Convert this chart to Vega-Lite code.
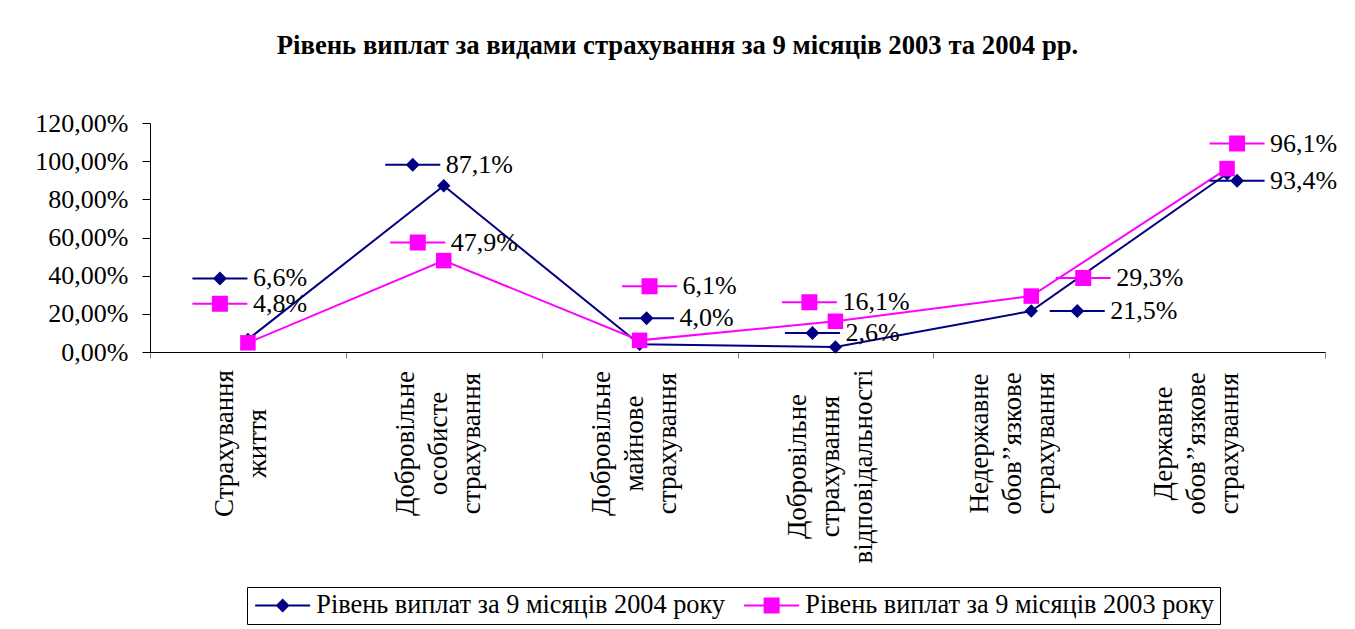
{
  "$schema": "https://vega.github.io/schema/vega-lite/v6.json",
  "width": 1175,
  "height": 229,
  "autosize": {"type": "none"},
  "padding": {"left": 150, "top": 123, "right": 30, "bottom": 277},
  "background": "white",
  "title": {
    "text": "Рівень виплат за видами страхування за 9 місяців 2003 та 2004 рр.",
    "font": "Liberation Serif",
    "fontSize": 26.7,
    "fontWeight": "bold",
    "color": "black",
    "anchor": "middle",
    "dx": -60,
    "offset": 50
  },
  "data": {
    "values": [
      {"cat": "Страхування життя", "series": "Рівень виплат за 9 місяців 2004 року", "value": 0.066},
      {"cat": "Добровільне особисте страхування", "series": "Рівень виплат за 9 місяців 2004 року", "value": 0.871},
      {"cat": "Добровільне майнове страхування", "series": "Рівень виплат за 9 місяців 2004 року", "value": 0.04},
      {"cat": "Добровільне страхування відповідальності", "series": "Рівень виплат за 9 місяців 2004 року", "value": 0.026},
      {"cat": "Недержавне обов’’язкове страхування", "series": "Рівень виплат за 9 місяців 2004 року", "value": 0.215},
      {"cat": "Державне обов’’язкове страхування", "series": "Рівень виплат за 9 місяців 2004 року", "value": 0.934},
      {"cat": "Страхування життя", "series": "Рівень виплат за 9 місяців 2003 року", "value": 0.048},
      {"cat": "Добровільне особисте страхування", "series": "Рівень виплат за 9 місяців 2003 року", "value": 0.479},
      {"cat": "Добровільне майнове страхування", "series": "Рівень виплат за 9 місяців 2003 року", "value": 0.061},
      {"cat": "Добровільне страхування відповідальності", "series": "Рівень виплат за 9 місяців 2003 року", "value": 0.161},
      {"cat": "Недержавне обов’’язкове страхування", "series": "Рівень виплат за 9 місяців 2003 року", "value": 0.293},
      {"cat": "Державне обов’’язкове страхування", "series": "Рівень виплат за 9 місяців 2003 року", "value": 0.961}
    ]
  },
  "encoding": {
    "x": {
      "field": "cat", "type": "nominal", "sort": null,
      "scale": {"type": "band", "paddingInner": 0, "paddingOuter": 0},
      "axis": {
        "title": null,
        "labelAngle": -90,
        "labelAlign": "center",
        "labelBaseline": "middle",
        "labelExpr": "split(datum.label, ' ')",
        "labelFont": "Liberation Serif",
        "labelFontSize": 27,
        "labelLineHeight": 33,
        "labelColor": "black",
        "labelLimit": 0,
        "labelOverlap": false,
        "labelPadding": {"condition": {"test": "datum.value === 'Добровільне страхування відповідальності'", "value": 108}, "value": 85},
        "labelOffset": {"condition": [
          {"test": "datum.value === 'Страхування життя'", "value": -23},
          {"test": "datum.value === 'Недержавне обов’’язкове страхування'", "value": -52},
          {"test": "datum.value === 'Державне обов’’язкове страхування'", "value": -64}
        ], "value": -38},
        "tickBand": "extent",
        "tickSize": 6,
        "tickColor": "#808080",
        "domainColor": "black",
        "domainWidth": 1
      }
    },
    "y": {
      "field": "value", "type": "quantitative",
      "scale": {"domain": [0, 1.2], "nice": false, "zero": true},
      "axis": {
        "title": null,
        "values": [0, 0.2, 0.4, 0.6, 0.8, 1, 1.2],
        "format": ".2%",
        "grid": false,
        "labelFont": "Liberation Serif",
        "labelFontSize": 26,
        "labelColor": "black",
        "tickSize": 8,
        "labelPadding": 14,
        "tickColor": "black",
        "domainColor": "black"
      }
    }
  },
  "layer": [
    {
      "mark": {"type": "line", "strokeWidth": 2},
      "encoding": {
        "color": {
          "field": "series", "type": "nominal",
          "scale": {"domain": ["Рівень виплат за 9 місяців 2004 року", "Рівень виплат за 9 місяців 2003 року"], "range": ["#000080", "#FF00FF"]},
          "legend": {
            "title": null, "orient": "none", "legendX": 97, "legendY": 464, "direction": "horizontal",
            "labelFont": "Liberation Serif", "labelFontSize": 26.3, "labelColor": "black", "labelLimit": 0,
            "symbolSize": 400, "symbolStrokeWidth": 0, "symbolOpacity": 1, "labelOffset": 38, "columnPadding": 15,
            "padding": 5, "strokeColor": "black", "fillColor": "white"
          }
        }
      }
    },
    {
      "transform": [{"filter": {"field": "series", "equal": "Рівень виплат за 9 місяців 2004 року"}}],
      "mark": {"type": "point", "shape": "diamond", "filled": true, "size": 180, "opacity": 1, "strokeWidth": 0},
      "encoding": {"color": {"field": "series", "type": "nominal"}}
    },
    {
      "transform": [{"filter": {"field": "series", "equal": "Рівень виплат за 9 місяців 2003 року"}}],
      "mark": {"type": "point", "shape": "square", "filled": true, "size": 240, "opacity": 1, "strokeWidth": 0},
      "encoding": {"color": {"field": "series", "type": "nominal"}}
    },
    {
      "transform": [{"filter": {"field": "value", "equal": 0.066}}],
      "layer": [
        {"mark": {"type": "point", "filled": true, "size": 400, "opacity": 1, "strokeWidth": 0, "xOffset": -45.5, "yOffset": -61},
         "encoding": {"color": {"field": "series", "type": "nominal"},
           "shape": {"field": "series", "type": "nominal",
             "scale": {"domain": ["Рівень виплат за 9 місяців 2004 року", "Рівень виплат за 9 місяців 2003 року"],
               "range": ["M-1,-0.1H4.5V0.1H-1Z M1.75,-0.7L2.45,0L1.75,0.7L1.05,0Z", "M-1,-0.1H4.5V0.1H-1Z M0.95,-0.8H2.55V0.8H0.95Z"]},
             "legend": {
               "title": null, "orient": "none", "legendX": 97, "legendY": 464, "direction": "horizontal",
               "labelFont": "Liberation Serif", "labelFontSize": 26.3, "labelColor": "black", "labelLimit": 0,
               "symbolSize": 400, "symbolStrokeWidth": 0, "symbolOpacity": 1, "labelOffset": 38, "columnPadding": 15,
               "padding": 5, "strokeColor": "black", "fillColor": "white"
             }}}},
        {"mark": {"type": "text", "align": "left", "baseline": "middle", "font": "Liberation Serif", "fontSize": 26, "color": "black", "xOffset": 5, "yOffset": -61},
         "encoding": {"text": {"field": "value", "type": "quantitative", "format": ".1%"}}}
      ]
    },
    {
      "transform": [{"filter": {"field": "value", "equal": 0.871}}],
      "layer": [
        {"mark": {"type": "point", "filled": true, "size": 400, "opacity": 1, "strokeWidth": 0, "xOffset": -48.5, "yOffset": -21},
         "encoding": {"color": {"field": "series", "type": "nominal"}, "shape": {"field": "series", "type": "nominal"}}},
        {"mark": {"type": "text", "align": "left", "baseline": "middle", "font": "Liberation Serif", "fontSize": 26, "color": "black", "xOffset": 2, "yOffset": -21},
         "encoding": {"text": {"field": "value", "type": "quantitative", "format": ".1%"}}}
      ]
    },
    {
      "transform": [{"filter": {"field": "value", "equal": 0.04}}],
      "layer": [
        {"mark": {"type": "point", "filled": true, "size": 400, "opacity": 1, "strokeWidth": 0, "xOffset": -10.5, "yOffset": -26},
         "encoding": {"color": {"field": "series", "type": "nominal"}, "shape": {"field": "series", "type": "nominal"}}},
        {"mark": {"type": "text", "align": "left", "baseline": "middle", "font": "Liberation Serif", "fontSize": 26, "color": "black", "xOffset": 40, "yOffset": -26},
         "encoding": {"text": {"field": "value", "type": "quantitative", "format": ".1%"}}}
      ]
    },
    {
      "transform": [{"filter": {"field": "value", "equal": 0.026}}],
      "layer": [
        {"mark": {"type": "point", "filled": true, "size": 400, "opacity": 1, "strokeWidth": 0, "xOffset": -40.5, "yOffset": -14},
         "encoding": {"color": {"field": "series", "type": "nominal"}, "shape": {"field": "series", "type": "nominal"}}},
        {"mark": {"type": "text", "align": "left", "baseline": "middle", "font": "Liberation Serif", "fontSize": 26, "color": "black", "xOffset": 10, "yOffset": -14},
         "encoding": {"text": {"field": "value", "type": "quantitative", "format": ".1%"}}}
      ]
    },
    {
      "transform": [{"filter": {"field": "value", "equal": 0.215}}],
      "layer": [
        {"mark": {"type": "point", "filled": true, "size": 400, "opacity": 1, "strokeWidth": 0, "xOffset": 28.5, "yOffset": 0},
         "encoding": {"color": {"field": "series", "type": "nominal"}, "shape": {"field": "series", "type": "nominal"}}},
        {"mark": {"type": "text", "align": "left", "baseline": "middle", "font": "Liberation Serif", "fontSize": 26, "color": "black", "xOffset": 79, "yOffset": 0},
         "encoding": {"text": {"field": "value", "type": "quantitative", "format": ".1%"}}}
      ]
    },
    {
      "transform": [{"filter": {"field": "value", "equal": 0.934}}],
      "layer": [
        {"mark": {"type": "point", "filled": true, "size": 400, "opacity": 1, "strokeWidth": 0, "xOffset": -7.5, "yOffset": 7},
         "encoding": {"color": {"field": "series", "type": "nominal"}, "shape": {"field": "series", "type": "nominal"}}},
        {"mark": {"type": "text", "align": "left", "baseline": "middle", "font": "Liberation Serif", "fontSize": 26, "color": "black", "xOffset": 43, "yOffset": 7},
         "encoding": {"text": {"field": "value", "type": "quantitative", "format": ".1%"}}}
      ]
    },
    {
      "transform": [{"filter": {"field": "value", "equal": 0.048}}],
      "layer": [
        {"mark": {"type": "point", "filled": true, "size": 400, "opacity": 1, "strokeWidth": 0, "xOffset": -45.5, "yOffset": -39},
         "encoding": {"color": {"field": "series", "type": "nominal"}, "shape": {"field": "series", "type": "nominal"}}},
        {"mark": {"type": "text", "align": "left", "baseline": "middle", "font": "Liberation Serif", "fontSize": 26, "color": "black", "xOffset": 5, "yOffset": -39},
         "encoding": {"text": {"field": "value", "type": "quantitative", "format": ".1%"}}}
      ]
    },
    {
      "transform": [{"filter": {"field": "value", "equal": 0.479}}],
      "layer": [
        {"mark": {"type": "point", "filled": true, "size": 400, "opacity": 1, "strokeWidth": 0, "xOffset": -43.5, "yOffset": -18},
         "encoding": {"color": {"field": "series", "type": "nominal"}, "shape": {"field": "series", "type": "nominal"}}},
        {"mark": {"type": "text", "align": "left", "baseline": "middle", "font": "Liberation Serif", "fontSize": 26, "color": "black", "xOffset": 7, "yOffset": -18},
         "encoding": {"text": {"field": "value", "type": "quantitative", "format": ".1%"}}}
      ]
    },
    {
      "transform": [{"filter": {"field": "value", "equal": 0.061}}],
      "layer": [
        {"mark": {"type": "point", "filled": true, "size": 400, "opacity": 1, "strokeWidth": 0, "xOffset": -7.5, "yOffset": -54},
         "encoding": {"color": {"field": "series", "type": "nominal"}, "shape": {"field": "series", "type": "nominal"}}},
        {"mark": {"type": "text", "align": "left", "baseline": "middle", "font": "Liberation Serif", "fontSize": 26, "color": "black", "xOffset": 43, "yOffset": -54},
         "encoding": {"text": {"field": "value", "type": "quantitative", "format": ".1%"}}}
      ]
    },
    {
      "transform": [{"filter": {"field": "value", "equal": 0.161}}],
      "layer": [
        {"mark": {"type": "point", "filled": true, "size": 400, "opacity": 1, "strokeWidth": 0, "xOffset": -43.5, "yOffset": -19},
         "encoding": {"color": {"field": "series", "type": "nominal"}, "shape": {"field": "series", "type": "nominal"}}},
        {"mark": {"type": "text", "align": "left", "baseline": "middle", "font": "Liberation Serif", "fontSize": 26, "color": "black", "xOffset": 7, "yOffset": -19},
         "encoding": {"text": {"field": "value", "type": "quantitative", "format": ".1%"}}}
      ]
    },
    {
      "transform": [{"filter": {"field": "value", "equal": 0.293}}],
      "layer": [
        {"mark": {"type": "point", "filled": true, "size": 400, "opacity": 1, "strokeWidth": 0, "xOffset": 34.5, "yOffset": -18},
         "encoding": {"color": {"field": "series", "type": "nominal"}, "shape": {"field": "series", "type": "nominal"}}},
        {"mark": {"type": "text", "align": "left", "baseline": "middle", "font": "Liberation Serif", "fontSize": 26, "color": "black", "xOffset": 85, "yOffset": -18},
         "encoding": {"text": {"field": "value", "type": "quantitative", "format": ".1%"}}}
      ]
    },
    {
      "transform": [{"filter": {"field": "value", "equal": 0.961}}],
      "layer": [
        {"mark": {"type": "point", "filled": true, "size": 400, "opacity": 1, "strokeWidth": 0, "xOffset": -7.5, "yOffset": -25},
         "encoding": {"color": {"field": "series", "type": "nominal"}, "shape": {"field": "series", "type": "nominal"}}},
        {"mark": {"type": "text", "align": "left", "baseline": "middle", "font": "Liberation Serif", "fontSize": 26, "color": "black", "xOffset": 43, "yOffset": -25},
         "encoding": {"text": {"field": "value", "type": "quantitative", "format": ".1%"}}}
      ]
    }
  ],
  "config": {
    "locale": {"number": {"decimal": ",", "thousands": " ", "grouping": [3], "currency": ["", ""]}},
    "view": {"stroke": null},
    "font": "Liberation Serif"
  }
}
